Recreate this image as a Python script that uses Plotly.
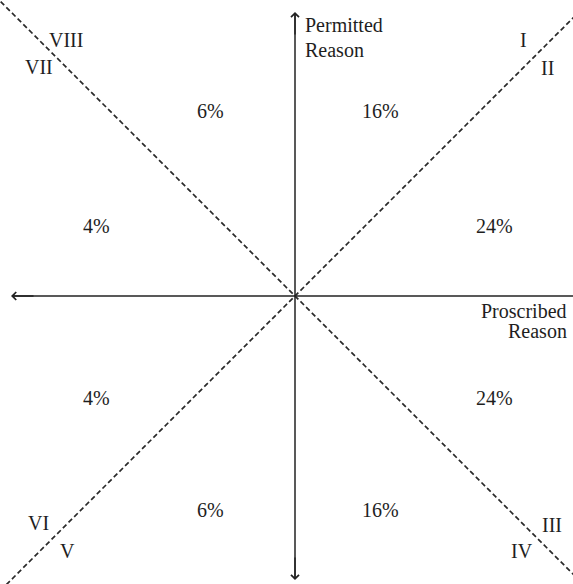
import plotly.graph_objects as go

# ---- data ----
share_labels = ["16%", "24%", "24%", "16%", "6%", "4%", "4%", "6%"]
region_names = ["I", "II", "III", "IV", "V", "VI", "VII", "VIII"]
axis_up = ["Permitted", "Reason"]
axis_right = ["Proscribed", "Reason"]

# ---- placement (data coordinates, origin = centre of the cross) ----
share_x = [85, 199, 199, 85, -85, -199, -199, -85]
share_y = [185, 70, -102, -214, -214, -102, 70, 185]
region_x = [228, 252, 257, 227, -228, -257, -256, -229]
region_y = [256, 228, -229, -255, -255, -227, 229, 256]

FONT = "Liberation Serif"
FS = 20
INK = "#1e1e1e"

fig = go.Figure()

# dashed diagonals
diag_t = [-300, 300]
for sgn in (1, -1):
    fig.add_trace(go.Scatter(x=diag_t, y=[sgn * v for v in diag_t], mode="lines",
                             line=dict(color="#2a2a2a", width=1.7, dash="5px,3px"),
                             hoverinfo="skip", showlegend=False))

# axes as lines
fig.add_trace(go.Scatter(x=[-282, 290], y=[0, 0], mode="lines",
                         line=dict(color="#222222", width=1.5),
                         hoverinfo="skip", showlegend=False))
fig.add_trace(go.Scatter(x=[0, 0], y=[282, -282], mode="lines",
                         line=dict(color="#222222", width=1.5),
                         hoverinfo="skip", showlegend=False))

annotations = []
for (tx, ty, fx, fy) in [(-284, 0, -260, 0), (0, 284, 0, 260), (0, -284, 0, -260)]:
    annotations.append(dict(x=tx, y=ty, ax=fx, ay=fy, xref="x", yref="y",
                            axref="x", ayref="y", text="", showarrow=True,
                            arrowhead=4, arrowsize=1.1, arrowwidth=1.4,
                            arrowcolor="#222222"))

for txt, x, y in zip(share_labels, share_x, share_y):
    annotations.append(dict(x=x, y=y, text=txt, showarrow=False,
                            font=dict(family=FONT, size=FS, color=INK)))
for txt, x, y in zip(region_names, region_x, region_y):
    annotations.append(dict(x=x, y=y, text=txt, showarrow=False,
                            font=dict(family=FONT, size=FS, color=INK)))

for txt, y in zip(axis_up, [271, 246]):
    annotations.append(dict(x=8, y=y, text=txt, showarrow=False, xanchor="left",
                            font=dict(family=FONT, size=FS, color=INK)))
for txt, y in zip(axis_right, [-15, -35]):
    annotations.append(dict(x=274, y=y, text=txt, showarrow=False, xanchor="right",
                            font=dict(family=FONT, size=FS, color=INK)))

fig.update_layout(
    width=573, height=584,
    margin=dict(l=0, r=0, t=0, b=0),
    paper_bgcolor="white", plot_bgcolor="white",
    xaxis=dict(range=[-295, 278], visible=False, fixedrange=True),
    yaxis=dict(range=[-288, 296], visible=False, fixedrange=True),
    annotations=annotations,
)

fig.write_html("out.html", config={"displayModeBar": False},
               post_script="document.body.style.margin='0';document.body.style.overflow='hidden';")
